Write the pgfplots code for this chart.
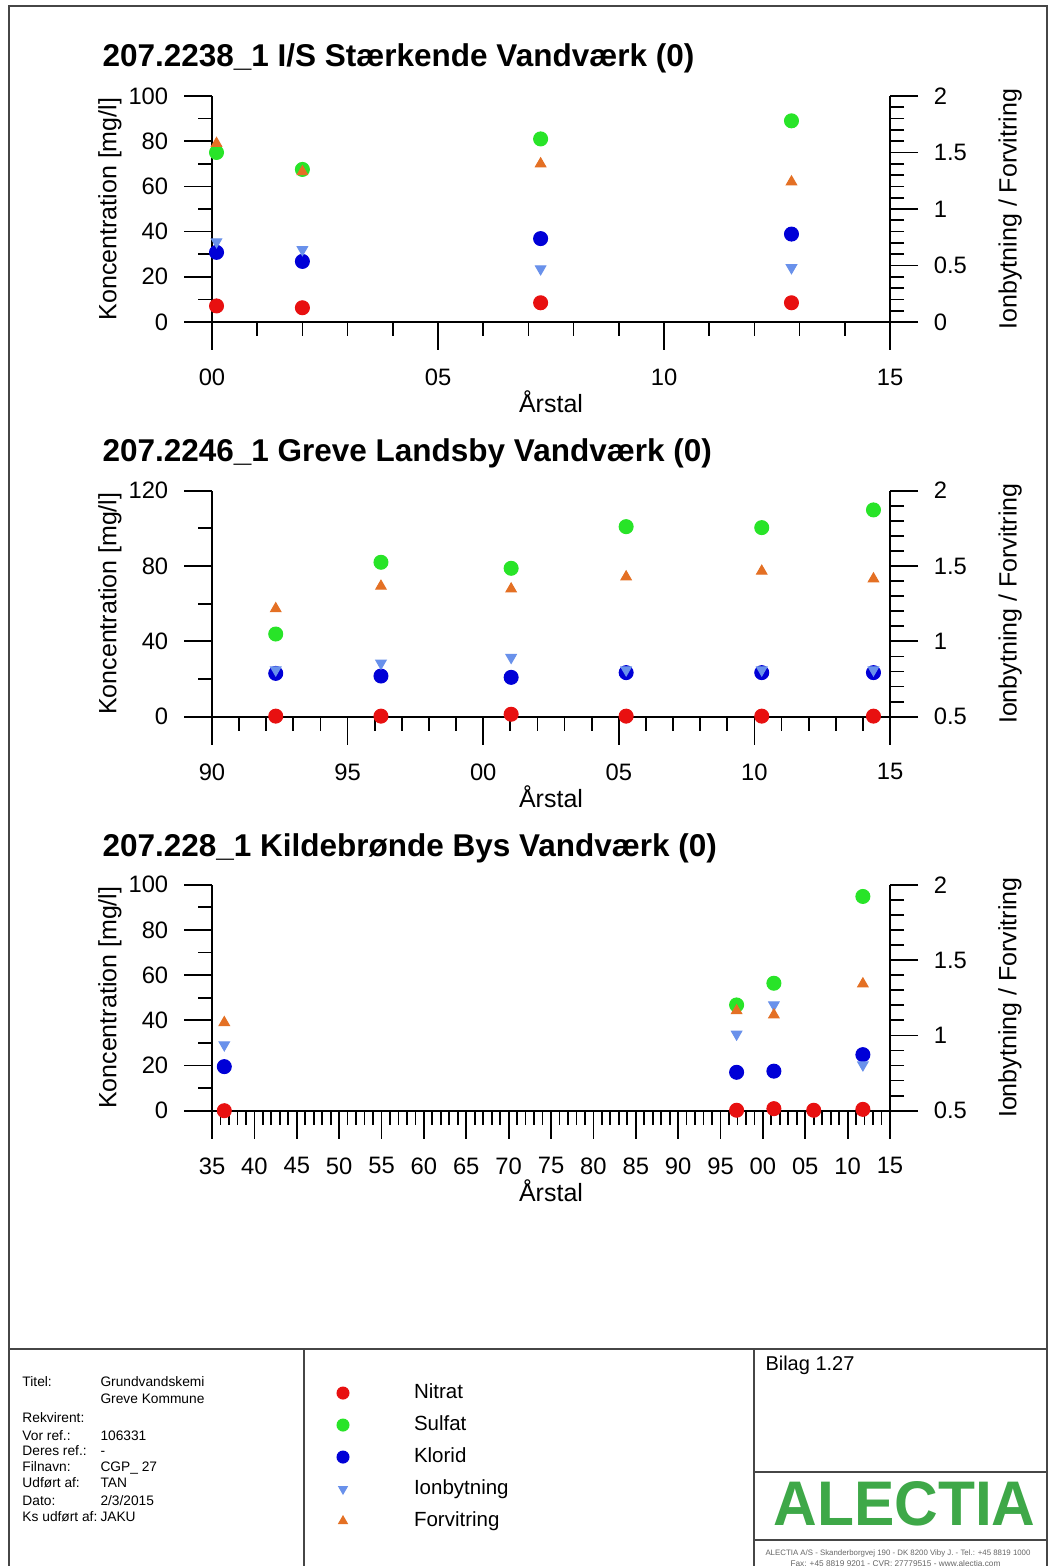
\documentclass[border=0pt]{standalone}
\usepackage{fontspec}
\setmainfont{Liberation Sans}
\usepackage{graphicx}
\usepackage{pgfplots}
\pgfplotsset{compat=1.18}

\definecolor{cNit}{RGB}{232,16,16}
\definecolor{cSul}{RGB}{40,228,40}
\definecolor{cKlo}{RGB}{0,0,215}
\definecolor{cIon}{RGB}{105,145,235}
\definecolor{cFor}{RGB}{228,112,36}
\definecolor{cLogo}{RGB}{62,168,72}
\definecolor{cFrame}{RGB}{70,70,70}

\pgfplotsset{
  base/.style={
    scale only axis, width=271.2pt, height=90.4pt, clip=false,
    tick align=outside, major tick length=11.2pt, minor tick length=5.6pt,
    tick style={black, line width=0.7pt},
    axis line style={black, line width=0.7pt, -},
    every outer x axis line/.append style={-},
    every outer y axis line/.append style={-},
    tick label style={font=\fontsize{9.5}{11}\selectfont},
    label style={font=\fontsize{9.5}{11}\selectfont},
    /pgf/number format/assume math mode=true,
  },
  leftax/.style={base, axis x line*=bottom, axis y line*=left,
    ylabel={Koncentration [mg/l]},
    every axis y label/.style={at={(axis description cs:-0.1504,0.5)}, rotate=90, anchor=center},
    xlabel={Årstal},
    every axis x label/.style={at={(axis description cs:0.5,-0.354)}, anchor=center},
    yticklabel style={xshift=-2.8pt}, xticklabel style={yshift=-4pt}},
  rightax/.style={base, axis x line=none, axis y line*=right,
    ylabel={Ionbytning / Forvitring},
    every axis y label/.style={at={(axis description cs:1.177,0.5)}, rotate=90, anchor=center},
    yticklabel style={xshift=2.8pt}},
  nit/.style={only marks, mark=*, mark size=2.8pt, color=cNit, mark options={draw=cNit, fill=cNit}},
  sul/.style={only marks, mark=*, mark size=2.8pt, color=cSul, mark options={draw=cSul, fill=cSul}},
  klo/.style={only marks, mark=*, mark size=2.8pt, color=cKlo, mark options={draw=cKlo, fill=cKlo}},
  ion/.style={only marks, mark=triangle*, mark size=2.4pt, color=cIon, mark options={rotate=180, draw=cIon, fill=cIon}},
  for/.style={only marks, mark=triangle*, mark size=2.4pt, color=cFor, mark options={draw=cFor, fill=cFor}},
}

\begin{document}
\begin{tikzpicture}
\begin{scope}[x=0.4pt, y=-0.4pt, shift={(0,626.4pt)}]
  \useasboundingbox (0,0) rectangle (1051,1566);
  \fill[white] (0,0) rectangle (1051,1566);
  \begin{scope}[cFrame, line width=0.8pt]
    \draw (9,1570) -- (9,6) -- (1047,6) -- (1047,1570);
    \draw (9,1349) -- (1047,1349);
    \draw (304,1349) -- (304,1570);
    \draw (754,1349) -- (754,1570);
    \draw (754,1472) -- (1047,1472);
    \draw (754,1540) -- (1047,1540);
  \end{scope}
  \begin{scope}[font=\fontsize{12.6}{15}\selectfont\bfseries]
    \node[anchor=base west, inner sep=0pt] at (102,67) {207.2238\_1 I/S Stærkende Vandværk (0)};
    \node[anchor=base west, inner sep=0pt] at (102,462) {207.2246\_1 Greve Landsby Vandværk (0)};
    \node[anchor=base west, inner sep=0pt] at (102,857) {207.228\_1 Kildebrønde Bys Vandværk (0)};
  \end{scope}
  \begin{scope}[font=\fontsize{5.5}{6.5}\selectfont, every node/.style={anchor=base west, inner sep=0pt}]
    \node at (22,1387) {Titel:};
    \node at (100,1387) {Grundvandskemi};
    \node at (100,1404) {Greve Kommune};
    \node at (22,1423) {Rekvirent:};
    \node at (22,1441) {Vor ref.:};
    \node at (100,1441) {106331};
    \node at (22,1456) {Deres ref.:};
    \node at (100,1456) {-};
    \node at (22,1472) {Filnavn:};
    \node at (100,1472) {CGP\_ 27};
    \node at (22,1488) {Udført af:};
    \node at (100,1488) {TAN};
    \node at (22,1505) {Dato:};
    \node at (100,1505) {2/3/2015};
    \node at (22,1521) {Ks udført af:};
    \node at (100,1521) {JAKU};
  \end{scope}
  \node[anchor=base west, inner sep=0pt, font=\fontsize{8}{10}\selectfont] at (765,1371) {Bilag 1.27};
  \node[anchor=south west, inner sep=0pt, text=cLogo] at (773,1527) {\resizebox{104.8pt}{17.6pt}{\bfseries ALECTIA}};
  \node[anchor=west, inner sep=0pt, text=black!60] at (765,1553) {\resizebox{106pt}{!}{ALECTIA A/S - Skanderborgvej 190 - DK 8200 Viby J. - Tel.: +45 8819 1000}};
  \node[anchor=west, inner sep=0pt, text=black!60] at (790,1564) {\resizebox{84pt}{!}{Fax: +45 8819 9201 - CVR: 27779515 - www.alectia.com}};
\end{scope}

% ---------- Chart 1 ----------
\begin{axis}[leftax, at={(84.8pt,497.6pt)}, anchor=south west,
  xmin=2000, xmax=2015, xtick={2000,2005,2010,2015}, xticklabels={00,05,10,15}, minor x tick num=4,
  ymin=0, ymax=100, ytick={0,20,40,60,80,100}, minor y tick num=1]
  \addplot[nit] coordinates {(2000.1,7.1) (2002.0,6.3) (2007.27,8.5) (2012.82,8.5)};
  \addplot[sul] coordinates {(2000.1,75) (2002.0,67.5) (2007.27,81) (2012.82,89)};
  \addplot[klo] coordinates {(2000.1,30.8) (2002.0,26.8) (2007.27,36.9) (2012.82,38.9)};
\end{axis}
\begin{axis}[rightax, at={(84.8pt,497.6pt)}, anchor=south west,
  xmin=2000, xmax=2015,
  ymin=0, ymax=2, ytick={0,0.5,1,1.5,2}, yticklabels={0,0.5,1,1.5,2}, minor y tick num=4]
  \addplot[ion] coordinates {(2000.1,0.71) (2002.0,0.64) (2007.27,0.47) (2012.82,0.48)};
  \addplot[for] coordinates {(2000.1,1.58) (2002.0,1.33) (2007.27,1.40) (2012.82,1.24)};
\end{axis}

% ---------- Chart 2 ----------
\begin{axis}[leftax, at={(84.8pt,339.72pt)}, anchor=south west,
  xmin=1990, xmax=2015, xtick={1990,1995,2000,2005,2010,2015}, xticklabels={90,95,00,05,10,15}, minor x tick num=4,
  ymin=0, ymax=120, ytick={0,40,80,120}, minor y tick num=1]
  \addplot[nit] coordinates {(1992.35,0.3) (1996.23,0.3) (2001.03,1.3) (2005.27,0.3) (2010.27,0.3) (2014.39,0.3)};
  \addplot[sul] coordinates {(1992.35,43.9) (1996.23,82) (2001.03,78.8) (2005.27,100.9) (2010.27,100.4) (2014.39,109.8)};
  \addplot[klo] coordinates {(1992.35,23) (1996.23,21.6) (2001.03,20.9) (2005.27,23.4) (2010.27,23.4) (2014.39,23.4)};
\end{axis}
\begin{axis}[rightax, at={(84.8pt,339.72pt)}, anchor=south west,
  xmin=1990, xmax=2015,
  ymin=0.5, ymax=2, ytick={0.5,1,1.5,2}, yticklabels={0.5,1,1.5,2}, minor y tick num=4]
  \addplot[ion] coordinates {(1992.35,0.81) (1996.23,0.855) (2001.03,0.893) (2005.27,0.81) (2010.27,0.81) (2014.39,0.81)};
  \addplot[for] coordinates {(1992.35,1.217) (1996.23,1.366) (2001.03,1.348) (2005.27,1.428) (2010.27,1.466) (2014.39,1.415)};
\end{axis}

% ---------- Chart 3 ----------
\begin{axis}[leftax, at={(84.8pt,182.12pt)}, anchor=south west,
  xmin=1935, xmax=2015, xtick={1935,1940,...,2015},
  xticklabels={35,40,45,50,55,60,65,70,75,80,85,90,95,00,05,10,15}, minor x tick num=4,
  ymin=0, ymax=100, ytick={0,20,40,60,80,100}, minor y tick num=1]
  \addplot[nit] coordinates {(1936.45,0) (1996.9,0.2) (2001.3,0.9) (2006.0,0.2) (2011.8,0.6)};
  \addplot[sul] coordinates {(1996.9,46.8) (2001.3,56.4) (2011.8,94.8)};
  \addplot[klo] coordinates {(1936.45,19.5) (1996.9,17) (2001.3,17.5) (2011.8,24.8)};
\end{axis}
\begin{axis}[rightax, at={(84.8pt,182.12pt)}, anchor=south west,
  xmin=1935, xmax=2015,
  ymin=0.5, ymax=2, ytick={0.5,1,1.5,2}, yticklabels={0.5,1,1.5,2}, minor y tick num=4]
  \addplot[ion] coordinates {(1936.45,0.937) (1996.9,1.008) (2001.3,1.202) (2011.8,0.804)};
  \addplot[for] coordinates {(1936.45,1.085) (1996.9,1.164) (2001.3,1.136) (2011.8,1.342)};
\end{axis}

% ---------- Legend ----------
\begin{axis}[hide axis, scale only axis, width=50pt, height=50pt,
  xmin=0, xmax=1, ymin=0, ymax=1,
  at={(134.8pt,73.44pt)}, anchor=north west,
  legend cell align=left,
  legend style={at={(axis description cs:0,1)}, anchor=north west, draw=none, fill=none,
    inner sep=0pt, outer sep=0pt, row sep=4.3pt, column sep=0pt,
    font=\fontsize{8.2}{10}\selectfont,
    nodes={inner sep=0pt, text height=6.3pt, text depth=2.2pt}},
  legend image code/.code={\path[draw=none, fill=none, mark=none] (-2.4pt,0pt) (28.4pt,0pt); \draw[#1] plot coordinates {(0pt,0pt)};}]
  \addlegendimage{only marks, mark=*, mark size=2.4pt, color=cNit}
  \addlegendentry{Nitrat}
  \addlegendimage{only marks, mark=*, mark size=2.4pt, color=cSul}
  \addlegendentry{Sulfat}
  \addlegendimage{only marks, mark=*, mark size=2.4pt, color=cKlo}
  \addlegendentry{Klorid}
  \addlegendimage{only marks, mark=triangle*, mark size=2pt, color=cIon, mark options={rotate=180}}
  \addlegendentry{Ionbytning}
  \addlegendimage{only marks, mark=triangle*, mark size=2pt, color=cFor}
  \addlegendentry{Forvitring}
\end{axis}
\end{tikzpicture}
\end{document}
